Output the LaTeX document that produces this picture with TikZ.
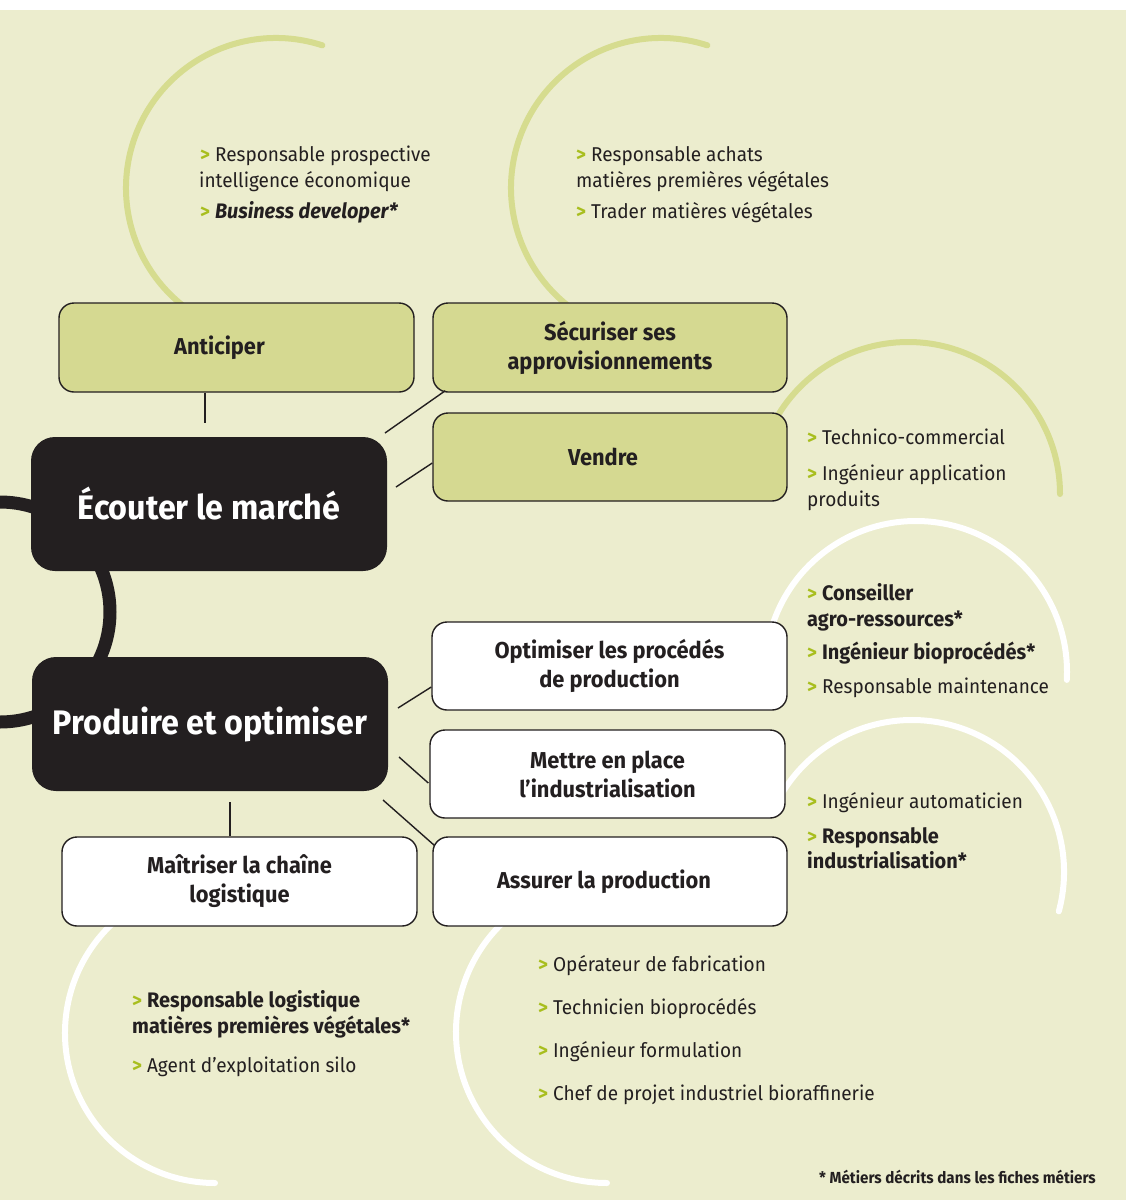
\documentclass[tikz,border=0pt]{standalone}
\usepackage{fontspec}
\setmainfont{Fira Sans}[FakeStretch=0.95]
\usetikzlibrary{calc}
\definecolor{bgc}{RGB}{236,237,206}
\definecolor{boxgreen}{RGB}{213,217,145}
\definecolor{arcgreen}{RGB}{214,220,143}
\definecolor{markc}{RGB}{168,190,30}
\definecolor{ink}{RGB}{35,31,32}
\newcommand\bul{{\color{markc}\bfseries >}\ }
\newcommand\bj[1]{{\fontsize{21}{24}\selectfont\bfseries #1}}
\tikzset{
  every node/.style={inner sep=0pt, text=ink},
  gbox/.style={draw=ink, line width=1.4pt, fill=boxgreen, rounded corners=15pt, align=center,
    font=\fontsize{23}{29}\selectfont\bfseries},
  wbox/.style={gbox, fill=white},
  blackbox/.style={fill=ink, rounded corners=24pt, text=white, align=center,
    font=\fontsize{34}{38}\selectfont\bfseries},
  jobitem/.style={anchor=base west, font=\fontsize{20}{24}\selectfont},
  conn/.style={draw=ink, line width=1.4pt},
  garc/.style={draw=arcgreen, line width=6pt, line cap=round},
  warc/.style={draw=white, line width=6pt, line cap=round},
}
\begin{document}
\begin{tikzpicture}[x=1pt,y=1pt]
\useasboundingbox (0,0) rectangle (1126,-1200);
\fill[white] (0,0) rectangle (1126,-1200);
\fill[bgc] (0,-10) rectangle (1126,-1200);

% arcs
\draw[garc] ([shift={(276,-188)}]72:150) arc[start angle=72,end angle=240,radius=150];
\draw[garc] ([shift={(661,-188)}]72:150) arc[start angle=72,end angle=240,radius=150];
\draw[garc] ([shift={(908,-494)}]0:152) arc[start angle=0,end angle=160,radius=152];
\draw[warc] ([shift={(916,-672)}]-3:151) arc[start angle=-3,end angle=166,radius=151];
\draw[warc] ([shift={(912,-872)}]-15:152) arc[start angle=-15,end angle=152,radius=152];
\draw[warc] ([shift={(215,-1033)}]125:150) arc[start angle=125,end angle=270,radius=150];
\draw[warc] ([shift={(607,-1032)}]125:151) arc[start angle=125,end angle=270,radius=151];
\draw[ink, line width=13pt] (0,-612) circle[radius=110];

% boxes
\node[gbox, minimum width=355pt, minimum height=89pt] (anticiper) at (236.5,-347.5) {Anticiper\hspace*{34pt}};
\node[gbox, minimum width=354pt, minimum height=89pt] (securiser) at (610,-347.5) {Sécuriser ses\\approvisionnements};
\node[gbox, minimum width=354pt, minimum height=88pt] (vendre) at (610,-457) {Vendre\hspace*{14pt}};
\node[blackbox, minimum width=356pt, minimum height=134pt] (ecouter) at (209,-504) {Écouter le marché};
\node[blackbox, minimum width=356pt, minimum height=134pt] (produire) at (210,-724) {Produire et optimiser};
\node[wbox, minimum width=355pt, minimum height=88pt] (optimiser) at (609.5,-666) {Optimiser les procédés\\de production};
\node[wbox, minimum width=355pt, minimum height=88pt] (mettre) at (607.5,-774) {Mettre en place\\l’industrialisation};
\node[wbox, minimum width=354pt, minimum height=89pt] (assurer) at (610,-881.5) {Assurer la production\hspace*{12pt}};
\node[wbox, minimum width=355pt, minimum height=89pt] (maitriser) at (239.5,-881.5) {Maîtriser la chaîne\\logistique};

% connectors
\coordinate (e1) at (205,-423);
\coordinate (e2) at (385,-433);
\coordinate (e3) at (396,-487);
\coordinate (e4) at (398,-708);
\coordinate (e5) at (399,-757);
\coordinate (e6) at (383,-800);
\coordinate (e7) at (230,-802);
\draw[conn] (anticiper.south -| e1) -- (e1);
\draw[conn] ($(securiser.south west)+(13,2)$) -- (e2);
\draw[conn] ($(vendre.west)+(0,-6)$) -- (e3);
\draw[conn] ($(optimiser.west)+(0,-21)$) -- (e4);
\draw[conn] ($(mettre.west)+(-1,-9)$) -- (e5);
\draw[conn] ($(assurer.north west)+(2,-9)$) -- (e6);
\draw[conn] (maitriser.north -| e7) -- (e7);

% job lists
\node[jobitem] (a1) at (200,-161) {\bul Responsable prospective};
\node[jobitem] (a2) at (199,-187) {intelligence économique};
\node[jobitem] (a3) at (200,-218) {\bul\bj{\itshape Business developer*}};

\node[jobitem] (b1) at (576,-161) {\bul Responsable achats};
\node[jobitem] (b2) at (576,-187) {matières premières végétales};
\node[jobitem] (b3) at (576,-218) {\bul Trader matières végétales};

\node[jobitem] (c1) at (807,-444) {\bul Technico-commercial};
\node[jobitem] (c2) at (807,-480) {\bul Ingénieur application};
\node[jobitem] (c3) at (807,-506) {produits};

\node[jobitem] (d1) at (807,-600) {\bul\bj{Conseiller}};
\node[jobitem] (d2) at (807,-626) {\bj{agro-ressources*}};
\node[jobitem] (d3) at (807,-659) {\bul\bj{Ingénieur bioprocédés*}};
\node[jobitem] (d4) at (807,-693) {\bul Responsable maintenance};

\node[jobitem] (f1) at (807,-808) {\bul Ingénieur automaticien};
\node[jobitem] (f2) at (807,-843) {\bul\bj{Responsable}};
\node[jobitem] (f3) at (807,-868) {\bj{industrialisation*}};

\node[jobitem] (g1) at (132,-1007) {\bul\bj{Responsable logistique}};
\node[jobitem] (g2) at (132,-1033) {\bj{matières premières végétales*}};
\node[jobitem] (g3) at (132,-1072) {\bul Agent d’exploitation silo};

\node[jobitem] (h1) at (538,-971) {\bul Opérateur de fabrication};
\node[jobitem] (h2) at (538,-1014) {\bul Technicien bioprocédés};
\node[jobitem] (h3) at (538,-1057) {\bul Ingénieur formulation};
\node[jobitem] (h4) at (538,-1100) {\bul Chef de projet industriel bioraffinerie};

\node[anchor=base east, font=\fontsize{16}{18}\selectfont\bfseries] (note) at (1096,-1183) {* Métiers décrits dans les fiches métiers};
\end{tikzpicture}
\end{document}
